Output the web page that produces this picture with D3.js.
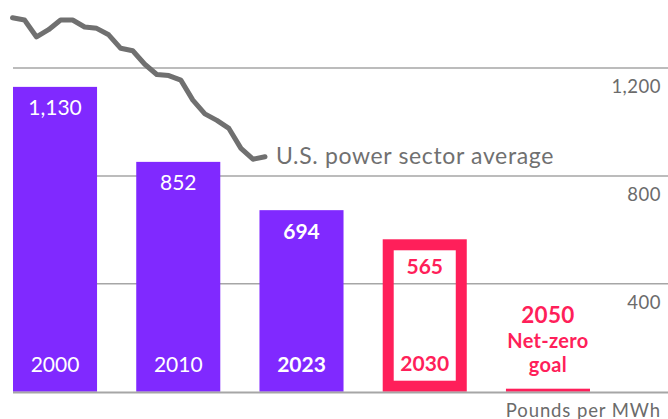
<!DOCTYPE html>
<html>
<head>
<meta charset="utf-8">
<script src="https://cdn.jsdelivr.net/npm/d3@7"></script>
<style>
  html, body { margin: 0; padding: 0; background: #fff; }
  svg { display: block; font-family: Lato, "Open Sans", sans-serif; }
</style>
</head>
<body>
<svg id="chart" width="668" height="419"></svg>
<script>
// ---- Data ----
const categories = ["2000", "2010", "2023", "2030", "2050"];
const barValues = [1130, 852, 673, 565, 0];          // drawn bar heights
const barLabels = ["1,130", "852", "694", "565", ""]; // printed values
const lineYears = [2001, 2002, 2003, 2004, 2005, 2006, 2007, 2008, 2009, 2010, 2011,
                   2012, 2013, 2014, 2015, 2016, 2017, 2018, 2019, 2020, 2021, 2022];
const lineValues = [1386, 1378, 1315, 1342, 1378, 1378, 1352, 1347, 1323, 1273, 1264,
                    1214, 1176, 1172, 1155, 1081, 1030, 1006, 976, 902, 862, 871];
const tickValues = [400, 800, 1200];
const tickLabels = ["400", "800", "1,200"];
const goalLines = ["2050", "Net-zero", "goal"];

const purple = "#8029ff";
const pink = "#ff1f5a";
const gray = "#707070";

const svg = d3.select("#chart");

const x = d3.scaleBand().domain(categories).range([13, 590]).paddingInner(0.318).paddingOuter(0);
const y = d3.scaleLinear().domain([0, 1200]).range([391.7, 68]);
const xl = d3.scaleLinear().domain([2001, 2022]).range([12.5, 265]);

// gridlines
svg.append("g").selectAll("line").data(tickValues).join("line")
  .attr("x1", 13).attr("x2", 668)
  .attr("y1", d => y(d)).attr("y2", d => y(d))
  .attr("stroke", "#a6a6a6").attr("stroke-width", 1.5);

// tick labels
svg.append("g").selectAll("text").data(tickValues).join("text")
  .attr("x", 661).attr("y", d => y(d) + 25)
  .attr("text-anchor", "end")
  .attr("font-size", 18.5).attr("fill", "#6b6b6b")
  .attr("letter-spacing", 0.5)
  .text((d, i) => tickLabels[i]);

// bars (solid)
const solid = categories.slice(0, 3);
svg.append("g").selectAll("rect").data(solid).join("rect")
  .attr("x", d => x(d)).attr("width", x.bandwidth())
  .attr("y", (d, i) => y(barValues[i]))
  .attr("height", (d, i) => y(0) - y(barValues[i]))
  .attr("fill", purple);

// 2030 outlined bar
const sw = 11;
svg.append("rect")
  .attr("x", x("2030") + sw / 2).attr("width", x.bandwidth() - sw)
  .attr("y", y(barValues[3]) + sw / 2)
  .attr("height", y(0) - y(barValues[3]) - sw)
  .attr("fill", "none").attr("stroke", pink).attr("stroke-width", sw);

// 2050 goal line
svg.append("rect")
  .attr("x", x("2050")).attr("width", x.bandwidth())
  .attr("y", y(barValues[4]) - 3).attr("height", 3)
  .attr("fill", pink);

// baseline
svg.append("line")
  .attr("x1", 13).attr("x2", 668).attr("y1", y(0) + 0.8).attr("y2", y(0) + 0.8)
  .attr("stroke", "#a6a6a6").attr("stroke-width", 1.8);

// value labels
const valueLabel = svg.append("g").attr("text-anchor", "middle").attr("font-size", 21);
categories.slice(0, 3).forEach((c, i) => {
  valueLabel.append("text")
    .attr("x", x(c) + x.bandwidth() / 2)
    .attr("y", y(barValues[i]) + 28.5)
    .attr("fill", "#fff")
    .attr("font-weight", i === 2 ? 700 : 400)
    .text(barLabels[i]);
  valueLabel.append("text")
    .attr("x", x(c) + x.bandwidth() / 2)
    .attr("y", y(0) - 20)
    .attr("fill", "#fff")
    .attr("font-weight", i === 2 ? 700 : 400)
    .text(c);
});
valueLabel.append("text")
  .attr("x", x("2030") + x.bandwidth() / 2)
  .attr("y", y(barValues[3]) + 34.7)
  .attr("fill", pink).attr("font-weight", 700)
  .text(barLabels[3]);
valueLabel.append("text")
  .attr("x", x("2030") + x.bandwidth() / 2)
  .attr("y", y(0) - 20.5)
  .attr("fill", pink).attr("font-weight", 700)
  .text("2030");

// 2050 goal text
const goalY = [322.5, 347.5, 371.5];
const goalSize = [22.5, 20, 20];
goalLines.forEach((t, i) => {
  svg.append("text")
    .attr("x", x("2050") + x.bandwidth() / 2)
    .attr("y", goalY[i])
    .attr("text-anchor", "middle")
    .attr("font-size", goalSize[i]).attr("font-weight", 700)
    .attr("letter-spacing", 0.3)
    .attr("fill", pink)
    .text(t);
});

// line
const line = d3.line().x((d, i) => xl(lineYears[i])).y(d => y(d));
svg.append("path")
  .datum(lineValues)
  .attr("d", line)
  .attr("fill", "none")
  .attr("stroke", gray).attr("stroke-width", 5)
  .attr("stroke-linejoin", "round").attr("stroke-linecap", "round");

svg.append("text")
  .attr("x", 276).attr("y", 163.5)
  .attr("font-size", 23).attr("fill", gray)
  .attr("letter-spacing", 0.65)
  .text("U.S. power sector average");

// unit label
svg.append("text")
  .attr("x", 661).attr("y", 416.5)
  .attr("text-anchor", "end")
  .attr("font-size", 18.5).attr("fill", "#6b6b6b")
  .attr("letter-spacing", 0.9)
  .text("Pounds per MWh");
</script>
</body>
</html>
